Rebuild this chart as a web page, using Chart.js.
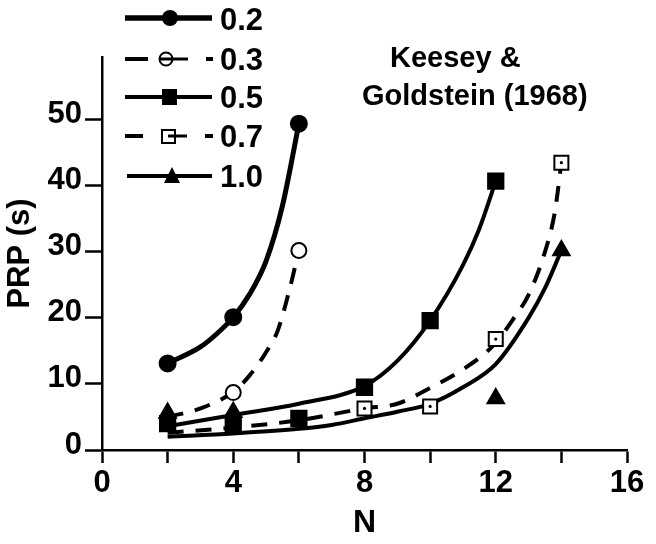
<!DOCTYPE html>
<html>
<head>
<meta charset="utf-8">
<title>PRP vs N</title>
<script src="https://cdn.jsdelivr.net/npm/chart.js@4.4.1/dist/chart.umd.min.js"></script>
<style>
  html, body { margin: 0; padding: 0; background: #fff; }
  #wrap { width: 656px; height: 544px; }
</style>
</head>
<body>
<div id="wrap"><canvas id="grafico" width="656" height="544"></canvas></div>
<script>
/* PRP (s) vs N - Keesey & Goldstein (1968) */

const seriesNames = ['0.2', '0.3', '0.5', '0.7', '1.0'];
const xTicks = [0, 4, 8, 12, 16];
const yTicks = [0, 10, 20, 30, 40, 50];

// measured points
const n02 = [2, 4, 6];
const prp02 = [13.1, 20.1, 49.4];
const n03 = [4, 6];
const prp03 = [8.7, 30.2];
const n05 = [2, 4, 6, 8, 10, 12];
const prp05 = [4.0, 4.0, 4.8, 9.5, 19.6, 40.7];
const n07 = [8, 10, 12, 14];
const prp07 = [6.3, 6.6, 16.8, 43.5];
const n10 = [2, 4, 12, 14];
const prp10 = [5.6, 5.7, 7.8, 30.2];

// fitted curves
const fitN02 = [2, 3, 3.5, 4, 4.5, 5, 5.5, 6];
const fitPrp02 = [13.1, 15.6, 17.6, 20.1, 23.6, 28.6, 37, 49.4];
const fitN03 = [2, 3, 4, 4.5, 5, 5.35, 5.7, 6];
const fitPrp03 = [5, 6.3, 8.8, 11.3, 14.8, 18, 24, 30.2];
const fitN05 = [2, 4, 6, 8, 9, 10, 11, 11.5, 12];
const fitPrp05 = [3.6, 5.3, 7, 9.7, 13.5, 19.6, 28, 33.5, 40.7];
const fitN07 = [2, 4, 6, 8, 9, 10, 11, 12, 12.5, 13, 13.5, 13.8, 14];
const fitPrp07 = [2.6, 3.4, 4.5, 6.3, 7, 9.4, 12.2, 16.2, 19.6, 23.5, 30, 36, 43.5];
const fitN10 = [2, 4, 6, 7, 8, 9, 10, 11, 12, 13, 13.5, 14];
const fitPrp10 = [2, 2.5, 3.2, 3.8, 4.8, 5.8, 7, 9.5, 13, 20, 24.5, 30.2];

const pts = (xs, ys) => xs.map((x, i) => ({ x: x, y: ys[i] }));

const marca = (label, data, style, radius, bg, extra) => Object.assign({
  label: label,
  data: data,
  showLine: false,
  pointStyle: style,
  pointRadius: radius,
  pointHoverRadius: radius,
  pointBackgroundColor: bg,
  pointBorderColor: '#000',
  pointBorderWidth: 2,
}, extra || {});

const curva = (label, data, width, dash) => ({
  label: label,
  data: data,
  showLine: true,
  pointRadius: 0,
  borderColor: '#000',
  borderWidth: width,
  borderDash: dash,
  cubicInterpolationMode: 'monotone',
  fill: false,
});

const datasets = [
  marca(seriesNames[0], pts(n02, prp02), 'circle', 8, '#000'),
  marca(seriesNames[2], pts(n05, prp05), 'rect', 10.8, '#000'),
  marca(seriesNames[4], pts(n10, prp10), 'triangle', 9.5, '#000'),
  marca(seriesNames[3] + ' dot', pts(n07, prp07), 'circle', 1.6, '#000', { pointBorderWidth: 0 }),
  marca(seriesNames[3], pts(n07, prp07), 'rect', 9.9, '#fff'),
  marca(seriesNames[1], pts(n03, prp03), 'circle', 7.5, '#fff'),
  curva('fit ' + seriesNames[0], pts(fitN02, fitPrp02), 5, []),
  curva('fit ' + seriesNames[1], pts(fitN03, fitPrp03), 4, [16, 12]),
  curva('fit ' + seriesNames[2], pts(fitN05, fitPrp05), 4, []),
  curva('fit ' + seriesNames[3], pts(fitN07, fitPrp07), 4, [16, 12]),
  curva('fit ' + seriesNames[4], pts(fitN10, fitPrp10), 4, []),
];

/* leyenda y texto */
const leyenda = {
  id: 'leyenda',
  afterDraw(chart) {
    const c = chart.ctx;
    c.save();
    c.strokeStyle = '#000';
    c.fillStyle = '#000';
    c.lineCap = 'butt';
    const seg = (x1, x2, y, w) => {
      c.lineWidth = w;
      c.beginPath(); c.moveTo(x1, y); c.lineTo(x2, y); c.stroke();
    };
    // 0.2
    seg(125, 212, 18, 5.5);
    c.beginPath(); c.arc(170, 18, 8, 0, Math.PI * 2); c.fill();
    // 0.3
    c.fillStyle = '#fff'; c.lineWidth = 2;
    c.beginPath(); c.arc(166, 59, 6.5, 0, Math.PI * 2); c.fill(); c.stroke();
    c.fillStyle = '#000';
    seg(125, 148, 59, 4); seg(160, 188, 59, 3); seg(206, 213, 59, 4);
    // 0.5
    seg(125, 212, 97, 4);
    c.fillRect(162, 89, 15, 16);
    // 0.7
    c.fillStyle = '#fff'; c.lineWidth = 2;
    c.fillRect(162, 130, 13, 13); c.strokeRect(162, 130, 13, 13);
    c.fillStyle = '#000';
    seg(125, 143, 136, 4); seg(168, 187, 136, 3); seg(205, 213, 136, 4);
    // 1.0
    seg(127, 212, 176, 4);
    c.beginPath(); c.moveTo(172, 167); c.lineTo(180, 183); c.lineTo(164, 183); c.closePath(); c.fill();

    c.textAlign = 'left';
    c.textBaseline = 'alphabetic';
    c.font = 'bold 31px "Liberation Sans", Arial, sans-serif';
    const bases = [30, 70, 108, 147, 187];
    seriesNames.forEach((s, i) => c.fillText(s, 220, bases[i]));
    c.font = 'bold 29px "Liberation Sans", Arial, sans-serif';
    c.fillText('Keesey &', 390, 67);
    c.fillText('Goldstein (1968)', 362, 105);
    c.restore();
  }
};

Chart.defaults.font.family = '"Liberation Sans", Arial, sans-serif';
Chart.defaults.font.weight = 'bold';
Chart.defaults.color = '#000';

const grafico = document.getElementById('grafico').getContext('2d');
new Chart(grafico, {
  type: 'scatter',
  data: { datasets: datasets },
  options: {
    responsive: false,
    animation: false,
    layout: { padding: { top: 57, right: 29, left: 0, bottom: 0 } },
    plugins: {
      legend: { display: false },
      tooltip: { enabled: false }
    },
    scales: {
      x: {
        type: 'linear',
        min: 0,
        max: 16,
        afterFit: (s) => { s.height = 94; },
        ticks: {
          stepSize: 2,
          autoSkip: false,
          maxRotation: 0,
          padding: 2,
          color: '#000',
          font: { size: 31, weight: 'bold' },
          callback: (v) => xTicks.includes(v) ? String(v) : ''
        },
        grid: {
          drawOnChartArea: false,
          tickLength: 13,
          tickColor: '#000',
          tickWidth: 2.5
        },
        border: { color: '#000', width: 2.5 },
        title: {
          display: true,
          text: 'N',
          color: '#000',
          font: { size: 32, weight: 'bold' },
          padding: { top: 0, bottom: 2 }
        }
      },
      y: {
        min: 0,
        max: 59.5,
        afterFit: (s) => { s.width = 102; },
        ticks: {
          stepSize: 10,
          includeBounds: false,
          padding: 3,
          labelOffset: -5,
          color: '#000',
          font: { size: 31, weight: 'bold' },
          callback: (v) => yTicks.includes(v) ? String(v) : ''
        },
        grid: {
          drawOnChartArea: false,
          tickLength: 17,
          tickColor: '#000',
          tickWidth: 2.5
        },
        border: { color: '#000', width: 2.5 },
        title: {
          display: true,
          text: 'PRP (s)',
          color: '#000',
          font: { size: 31, weight: 'bold' },
          padding: { top: 2, bottom: 0 }
        }
      }
    }
  },
  plugins: [leyenda]
});
</script>
</body>
</html>
